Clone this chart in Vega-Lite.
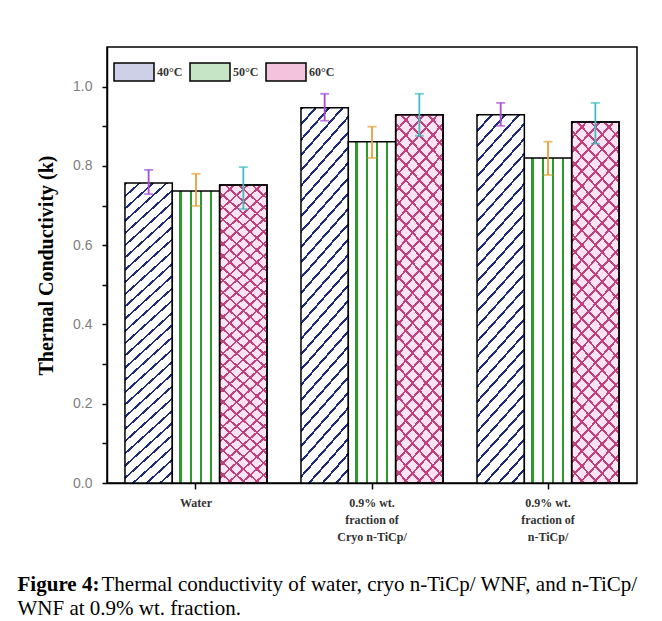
{
"$schema": "https://vega.github.io/schema/vega-lite/v6.json",
"width": 530, "height": 436,
"autosize": {"type": "none"},
"padding": {"left": 107, "top": 47, "right": 25, "bottom": 138},
"background": "white",
"config": {"view": {"stroke": "black", "strokeWidth": 1.5}, "axis": {"domainColor": "black", "tickColor": "black", "domainWidth": 1.5, "tickWidth": 1.5, "grid": false}},
"title": {"text": "Figure 4:", "subtitle": ["\u200b\u00a0\u00a0\u00a0\u00a0\u00a0\u00a0\u00a0\u00a0\u00a0\u00a0\u00a0\u00a0\u00a0\u00a0\u00a0\u00a0Thermal conductivity of water, cryo n-TiCp/ WNF, and n-TiCp/", "WNF at 0.9% wt. fraction."], "orient": "bottom", "anchor": "start", "frame": "bounds", "offset": 32, "dx": -19, "font": "Liberation Serif", "fontSize": 21, "fontWeight": "bold", "color": "black", "subtitleFont": "Liberation Serif", "subtitleFontSize": 21, "subtitleFontWeight": "normal", "subtitleColor": "black", "subtitlePadding": -21, "subtitleLineHeight": 24},
"data": {"values": [
{"group": "Water", "temp": "40°C", "value": 0.757, "lo": 0.729, "hi": 0.790},
{"group": "Water", "temp": "50°C", "value": 0.737, "lo": 0.699, "hi": 0.780},
{"group": "Water", "temp": "60°C", "value": 0.752, "lo": 0.691, "hi": 0.797},
{"group": "0.9% wt.\nfraction of\nCryo n-TiCp/", "temp": "40°C", "value": 0.947, "lo": 0.914, "hi": 0.982},
{"group": "0.9% wt.\nfraction of\nCryo n-TiCp/", "temp": "50°C", "value": 0.861, "lo": 0.820, "hi": 0.899},
{"group": "0.9% wt.\nfraction of\nCryo n-TiCp/", "temp": "60°C", "value": 0.929, "lo": 0.876, "hi": 0.982},
{"group": "0.9% wt.\nfraction of\nn-TiCp/", "temp": "40°C", "value": 0.929, "lo": 0.901, "hi": 0.959},
{"group": "0.9% wt.\nfraction of\nn-TiCp/", "temp": "50°C", "value": 0.820, "lo": 0.777, "hi": 0.861},
{"group": "0.9% wt.\nfraction of\nn-TiCp/", "temp": "60°C", "value": 0.911, "lo": 0.856, "hi": 0.959}
]},
"encoding": {
"x": {"field": "group", "type": "nominal", "sort": null, "scale": {"paddingInner": 0.193, "paddingOuter": 0.102}, "axis": {"title": null, "labelAngle": 0, "labelExpr": "split(datum.value, '\\n')", "labelFont": "Liberation Serif", "labelFontWeight": "bold", "labelFontSize": 12, "labelColor": "#333333", "labelLineHeight": 17, "labelPadding": 8, "tickSize": 6}},
"xOffset": {"field": "temp", "type": "nominal", "scale": {"domain": ["40°C", "50°C", "60°C"], "paddingInner": 0, "paddingOuter": 0}}
},
"layer": [
{"mark": {"type": "bar", "stroke": "black", "strokeWidth": 1.5},
 "encoding": {
 "y": {"field": "value", "type": "quantitative", "title": "Thermal Conductivity (k)", "scale": {"domain": [0, 1.1], "nice": false}, "axis": {"values": [0, 0.1, 0.2, 0.3, 0.4, 0.5, 0.6, 0.7, 0.8, 0.9, 1.0], "labelExpr": "round(datum.value*10)%2===0 ? format(datum.value,'.1f') : ''", "labelFont": "Liberation Sans", "labelFontSize": 14, "labelColor": "#808080", "labelPadding": 10, "tickSize": 5, "titleFont": "Liberation Serif", "titleFontWeight": "bold", "titleFontSize": 20, "titleColor": "black", "titlePadding": 16}},
 "fill": {"field": "temp", "type": "nominal", "scale": {"domain": ["40°C", "50°C", "60°C"], "range": ["#cdd0e6", "#c6e4c6", "#f3c2dd"]},
  "legend": {"orient": "none", "legendX": 6, "legendY": 4, "direction": "horizontal", "title": null, "symbolType": "M-1,-0.45H1V0.45H-1Z", "symbolSize": 1600, "symbolStrokeColor": "black", "symbolStrokeWidth": 1.5, "labelFont": "Liberation Serif", "labelFontWeight": "bold", "labelFontSize": 12, "labelColor": "#333333", "labelOffset": 2, "columnPadding": 4},
  "condition": [
   {"test": "datum.temp === '40°C'", "value": {"gradient": "linear", "x1": 0, "y1": 0, "x2": 0.16, "y2": 1.12, "stops": [{"offset":0,"color":"#fff"},{"offset":0,"color":"#1f2a7a"},{"offset":0.007,"color":"#1f2a7a"},{"offset":0.007,"color":"#fff"},{"offset":0.0357,"color":"#fff"},{"offset":0.0357,"color":"#1f2a7a"},{"offset":0.0427,"color":"#1f2a7a"},{"offset":0.0427,"color":"#fff"},{"offset":0.0714,"color":"#fff"},{"offset":0.0714,"color":"#1f2a7a"},{"offset":0.0784,"color":"#1f2a7a"},{"offset":0.0784,"color":"#fff"},{"offset":0.1071,"color":"#fff"},{"offset":0.1071,"color":"#1f2a7a"},{"offset":0.1141,"color":"#1f2a7a"},{"offset":0.1141,"color":"#fff"},{"offset":0.1429,"color":"#fff"},{"offset":0.1429,"color":"#1f2a7a"},{"offset":0.1499,"color":"#1f2a7a"},{"offset":0.1499,"color":"#fff"},{"offset":0.1786,"color":"#fff"},{"offset":0.1786,"color":"#1f2a7a"},{"offset":0.1856,"color":"#1f2a7a"},{"offset":0.1856,"color":"#fff"},{"offset":0.2143,"color":"#fff"},{"offset":0.2143,"color":"#1f2a7a"},{"offset":0.2213,"color":"#1f2a7a"},{"offset":0.2213,"color":"#fff"},{"offset":0.25,"color":"#fff"},{"offset":0.25,"color":"#1f2a7a"},{"offset":0.257,"color":"#1f2a7a"},{"offset":0.257,"color":"#fff"},{"offset":0.2857,"color":"#fff"},{"offset":0.2857,"color":"#1f2a7a"},{"offset":0.2927,"color":"#1f2a7a"},{"offset":0.2927,"color":"#fff"},{"offset":0.3214,"color":"#fff"},{"offset":0.3214,"color":"#1f2a7a"},{"offset":0.3284,"color":"#1f2a7a"},{"offset":0.3284,"color":"#fff"},{"offset":0.3571,"color":"#fff"},{"offset":0.3571,"color":"#1f2a7a"},{"offset":0.3641,"color":"#1f2a7a"},{"offset":0.3641,"color":"#fff"},{"offset":0.3929,"color":"#fff"},{"offset":0.3929,"color":"#1f2a7a"},{"offset":0.3999,"color":"#1f2a7a"},{"offset":0.3999,"color":"#fff"},{"offset":0.4286,"color":"#fff"},{"offset":0.4286,"color":"#1f2a7a"},{"offset":0.4356,"color":"#1f2a7a"},{"offset":0.4356,"color":"#fff"},{"offset":0.4643,"color":"#fff"},{"offset":0.4643,"color":"#1f2a7a"},{"offset":0.4713,"color":"#1f2a7a"},{"offset":0.4713,"color":"#fff"},{"offset":0.5,"color":"#fff"},{"offset":0.5,"color":"#1f2a7a"},{"offset":0.507,"color":"#1f2a7a"},{"offset":0.507,"color":"#fff"},{"offset":0.5357,"color":"#fff"},{"offset":0.5357,"color":"#1f2a7a"},{"offset":0.5427,"color":"#1f2a7a"},{"offset":0.5427,"color":"#fff"},{"offset":0.5714,"color":"#fff"},{"offset":0.5714,"color":"#1f2a7a"},{"offset":0.5784,"color":"#1f2a7a"},{"offset":0.5784,"color":"#fff"},{"offset":0.6071,"color":"#fff"},{"offset":0.6071,"color":"#1f2a7a"},{"offset":0.6141,"color":"#1f2a7a"},{"offset":0.6141,"color":"#fff"},{"offset":0.6429,"color":"#fff"},{"offset":0.6429,"color":"#1f2a7a"},{"offset":0.6499,"color":"#1f2a7a"},{"offset":0.6499,"color":"#fff"},{"offset":0.6786,"color":"#fff"},{"offset":0.6786,"color":"#1f2a7a"},{"offset":0.6856,"color":"#1f2a7a"},{"offset":0.6856,"color":"#fff"},{"offset":0.7143,"color":"#fff"},{"offset":0.7143,"color":"#1f2a7a"},{"offset":0.7213,"color":"#1f2a7a"},{"offset":0.7213,"color":"#fff"},{"offset":0.75,"color":"#fff"},{"offset":0.75,"color":"#1f2a7a"},{"offset":0.757,"color":"#1f2a7a"},{"offset":0.757,"color":"#fff"},{"offset":0.7857,"color":"#fff"},{"offset":0.7857,"color":"#1f2a7a"},{"offset":0.7927,"color":"#1f2a7a"},{"offset":0.7927,"color":"#fff"},{"offset":0.8214,"color":"#fff"},{"offset":0.8214,"color":"#1f2a7a"},{"offset":0.8284,"color":"#1f2a7a"},{"offset":0.8284,"color":"#fff"},{"offset":0.8571,"color":"#fff"},{"offset":0.8571,"color":"#1f2a7a"},{"offset":0.8641,"color":"#1f2a7a"},{"offset":0.8641,"color":"#fff"},{"offset":0.8929,"color":"#fff"},{"offset":0.8929,"color":"#1f2a7a"},{"offset":0.8999,"color":"#1f2a7a"},{"offset":0.8999,"color":"#fff"},{"offset":0.9286,"color":"#fff"},{"offset":0.9286,"color":"#1f2a7a"},{"offset":0.9356,"color":"#1f2a7a"},{"offset":0.9356,"color":"#fff"},{"offset":0.9643,"color":"#fff"},{"offset":0.9643,"color":"#1f2a7a"},{"offset":0.9713,"color":"#1f2a7a"},{"offset":0.9713,"color":"#fff"},{"offset":1,"color":"#fff"}]}},
   {"test": "datum.temp === '50°C'", "value": {"gradient": "linear", "x1": 0, "y1": 0, "x2": 1, "y2": 0, "stops": [{"offset":0,"color":"#fff"},{"offset":0.15,"color":"#fff"},{"offset":0.15,"color":"#2e9a2e"},{"offset":0.2,"color":"#2e9a2e"},{"offset":0.2,"color":"#fff"},{"offset":0.37,"color":"#fff"},{"offset":0.37,"color":"#2e9a2e"},{"offset":0.42,"color":"#2e9a2e"},{"offset":0.42,"color":"#fff"},{"offset":0.58,"color":"#fff"},{"offset":0.58,"color":"#2e9a2e"},{"offset":0.63,"color":"#2e9a2e"},{"offset":0.63,"color":"#fff"},{"offset":0.79,"color":"#fff"},{"offset":0.79,"color":"#2e9a2e"},{"offset":0.84,"color":"#2e9a2e"},{"offset":0.84,"color":"#fff"},{"offset":1,"color":"#fff"}]}},
   {"test": "datum.temp === '60°C'", "value": {"gradient": "linear", "x1": 0, "y1": 0, "x2": 0.16, "y2": 1.12, "stops": [{"offset":0,"color":"#fbe3f1"},{"offset":0,"color":"#c2407e"},{"offset":0.007,"color":"#c2407e"},{"offset":0.007,"color":"#fbe3f1"},{"offset":0.0357,"color":"#fbe3f1"},{"offset":0.0357,"color":"#c2407e"},{"offset":0.0427,"color":"#c2407e"},{"offset":0.0427,"color":"#fbe3f1"},{"offset":0.0714,"color":"#fbe3f1"},{"offset":0.0714,"color":"#c2407e"},{"offset":0.0784,"color":"#c2407e"},{"offset":0.0784,"color":"#fbe3f1"},{"offset":0.1071,"color":"#fbe3f1"},{"offset":0.1071,"color":"#c2407e"},{"offset":0.1141,"color":"#c2407e"},{"offset":0.1141,"color":"#fbe3f1"},{"offset":0.1429,"color":"#fbe3f1"},{"offset":0.1429,"color":"#c2407e"},{"offset":0.1499,"color":"#c2407e"},{"offset":0.1499,"color":"#fbe3f1"},{"offset":0.1786,"color":"#fbe3f1"},{"offset":0.1786,"color":"#c2407e"},{"offset":0.1856,"color":"#c2407e"},{"offset":0.1856,"color":"#fbe3f1"},{"offset":0.2143,"color":"#fbe3f1"},{"offset":0.2143,"color":"#c2407e"},{"offset":0.2213,"color":"#c2407e"},{"offset":0.2213,"color":"#fbe3f1"},{"offset":0.25,"color":"#fbe3f1"},{"offset":0.25,"color":"#c2407e"},{"offset":0.257,"color":"#c2407e"},{"offset":0.257,"color":"#fbe3f1"},{"offset":0.2857,"color":"#fbe3f1"},{"offset":0.2857,"color":"#c2407e"},{"offset":0.2927,"color":"#c2407e"},{"offset":0.2927,"color":"#fbe3f1"},{"offset":0.3214,"color":"#fbe3f1"},{"offset":0.3214,"color":"#c2407e"},{"offset":0.3284,"color":"#c2407e"},{"offset":0.3284,"color":"#fbe3f1"},{"offset":0.3571,"color":"#fbe3f1"},{"offset":0.3571,"color":"#c2407e"},{"offset":0.3641,"color":"#c2407e"},{"offset":0.3641,"color":"#fbe3f1"},{"offset":0.3929,"color":"#fbe3f1"},{"offset":0.3929,"color":"#c2407e"},{"offset":0.3999,"color":"#c2407e"},{"offset":0.3999,"color":"#fbe3f1"},{"offset":0.4286,"color":"#fbe3f1"},{"offset":0.4286,"color":"#c2407e"},{"offset":0.4356,"color":"#c2407e"},{"offset":0.4356,"color":"#fbe3f1"},{"offset":0.4643,"color":"#fbe3f1"},{"offset":0.4643,"color":"#c2407e"},{"offset":0.4713,"color":"#c2407e"},{"offset":0.4713,"color":"#fbe3f1"},{"offset":0.5,"color":"#fbe3f1"},{"offset":0.5,"color":"#c2407e"},{"offset":0.507,"color":"#c2407e"},{"offset":0.507,"color":"#fbe3f1"},{"offset":0.5357,"color":"#fbe3f1"},{"offset":0.5357,"color":"#c2407e"},{"offset":0.5427,"color":"#c2407e"},{"offset":0.5427,"color":"#fbe3f1"},{"offset":0.5714,"color":"#fbe3f1"},{"offset":0.5714,"color":"#c2407e"},{"offset":0.5784,"color":"#c2407e"},{"offset":0.5784,"color":"#fbe3f1"},{"offset":0.6071,"color":"#fbe3f1"},{"offset":0.6071,"color":"#c2407e"},{"offset":0.6141,"color":"#c2407e"},{"offset":0.6141,"color":"#fbe3f1"},{"offset":0.6429,"color":"#fbe3f1"},{"offset":0.6429,"color":"#c2407e"},{"offset":0.6499,"color":"#c2407e"},{"offset":0.6499,"color":"#fbe3f1"},{"offset":0.6786,"color":"#fbe3f1"},{"offset":0.6786,"color":"#c2407e"},{"offset":0.6856,"color":"#c2407e"},{"offset":0.6856,"color":"#fbe3f1"},{"offset":0.7143,"color":"#fbe3f1"},{"offset":0.7143,"color":"#c2407e"},{"offset":0.7213,"color":"#c2407e"},{"offset":0.7213,"color":"#fbe3f1"},{"offset":0.75,"color":"#fbe3f1"},{"offset":0.75,"color":"#c2407e"},{"offset":0.757,"color":"#c2407e"},{"offset":0.757,"color":"#fbe3f1"},{"offset":0.7857,"color":"#fbe3f1"},{"offset":0.7857,"color":"#c2407e"},{"offset":0.7927,"color":"#c2407e"},{"offset":0.7927,"color":"#fbe3f1"},{"offset":0.8214,"color":"#fbe3f1"},{"offset":0.8214,"color":"#c2407e"},{"offset":0.8284,"color":"#c2407e"},{"offset":0.8284,"color":"#fbe3f1"},{"offset":0.8571,"color":"#fbe3f1"},{"offset":0.8571,"color":"#c2407e"},{"offset":0.8641,"color":"#c2407e"},{"offset":0.8641,"color":"#fbe3f1"},{"offset":0.8929,"color":"#fbe3f1"},{"offset":0.8929,"color":"#c2407e"},{"offset":0.8999,"color":"#c2407e"},{"offset":0.8999,"color":"#fbe3f1"},{"offset":0.9286,"color":"#fbe3f1"},{"offset":0.9286,"color":"#c2407e"},{"offset":0.9356,"color":"#c2407e"},{"offset":0.9356,"color":"#fbe3f1"},{"offset":0.9643,"color":"#fbe3f1"},{"offset":0.9643,"color":"#c2407e"},{"offset":0.9713,"color":"#c2407e"},{"offset":0.9713,"color":"#fbe3f1"},{"offset":1,"color":"#fbe3f1"}]}}
  ]}
 }},
{"transform": [{"filter": "datum.temp === '60°C'"}],
 "mark": {"type": "bar", "stroke": "black", "strokeWidth": 1.5, "fill": {"gradient": "linear", "x1": 1, "y1": 0, "x2": 0.84, "y2": 1.12, "stops": [{"offset":0,"color":"rgba(255,255,255,0)"},{"offset":0,"color":"#c2407e"},{"offset":0.007,"color":"#c2407e"},{"offset":0.007,"color":"rgba(255,255,255,0)"},{"offset":0.0357,"color":"rgba(255,255,255,0)"},{"offset":0.0357,"color":"#c2407e"},{"offset":0.0427,"color":"#c2407e"},{"offset":0.0427,"color":"rgba(255,255,255,0)"},{"offset":0.0714,"color":"rgba(255,255,255,0)"},{"offset":0.0714,"color":"#c2407e"},{"offset":0.0784,"color":"#c2407e"},{"offset":0.0784,"color":"rgba(255,255,255,0)"},{"offset":0.1071,"color":"rgba(255,255,255,0)"},{"offset":0.1071,"color":"#c2407e"},{"offset":0.1141,"color":"#c2407e"},{"offset":0.1141,"color":"rgba(255,255,255,0)"},{"offset":0.1429,"color":"rgba(255,255,255,0)"},{"offset":0.1429,"color":"#c2407e"},{"offset":0.1499,"color":"#c2407e"},{"offset":0.1499,"color":"rgba(255,255,255,0)"},{"offset":0.1786,"color":"rgba(255,255,255,0)"},{"offset":0.1786,"color":"#c2407e"},{"offset":0.1856,"color":"#c2407e"},{"offset":0.1856,"color":"rgba(255,255,255,0)"},{"offset":0.2143,"color":"rgba(255,255,255,0)"},{"offset":0.2143,"color":"#c2407e"},{"offset":0.2213,"color":"#c2407e"},{"offset":0.2213,"color":"rgba(255,255,255,0)"},{"offset":0.25,"color":"rgba(255,255,255,0)"},{"offset":0.25,"color":"#c2407e"},{"offset":0.257,"color":"#c2407e"},{"offset":0.257,"color":"rgba(255,255,255,0)"},{"offset":0.2857,"color":"rgba(255,255,255,0)"},{"offset":0.2857,"color":"#c2407e"},{"offset":0.2927,"color":"#c2407e"},{"offset":0.2927,"color":"rgba(255,255,255,0)"},{"offset":0.3214,"color":"rgba(255,255,255,0)"},{"offset":0.3214,"color":"#c2407e"},{"offset":0.3284,"color":"#c2407e"},{"offset":0.3284,"color":"rgba(255,255,255,0)"},{"offset":0.3571,"color":"rgba(255,255,255,0)"},{"offset":0.3571,"color":"#c2407e"},{"offset":0.3641,"color":"#c2407e"},{"offset":0.3641,"color":"rgba(255,255,255,0)"},{"offset":0.3929,"color":"rgba(255,255,255,0)"},{"offset":0.3929,"color":"#c2407e"},{"offset":0.3999,"color":"#c2407e"},{"offset":0.3999,"color":"rgba(255,255,255,0)"},{"offset":0.4286,"color":"rgba(255,255,255,0)"},{"offset":0.4286,"color":"#c2407e"},{"offset":0.4356,"color":"#c2407e"},{"offset":0.4356,"color":"rgba(255,255,255,0)"},{"offset":0.4643,"color":"rgba(255,255,255,0)"},{"offset":0.4643,"color":"#c2407e"},{"offset":0.4713,"color":"#c2407e"},{"offset":0.4713,"color":"rgba(255,255,255,0)"},{"offset":0.5,"color":"rgba(255,255,255,0)"},{"offset":0.5,"color":"#c2407e"},{"offset":0.507,"color":"#c2407e"},{"offset":0.507,"color":"rgba(255,255,255,0)"},{"offset":0.5357,"color":"rgba(255,255,255,0)"},{"offset":0.5357,"color":"#c2407e"},{"offset":0.5427,"color":"#c2407e"},{"offset":0.5427,"color":"rgba(255,255,255,0)"},{"offset":0.5714,"color":"rgba(255,255,255,0)"},{"offset":0.5714,"color":"#c2407e"},{"offset":0.5784,"color":"#c2407e"},{"offset":0.5784,"color":"rgba(255,255,255,0)"},{"offset":0.6071,"color":"rgba(255,255,255,0)"},{"offset":0.6071,"color":"#c2407e"},{"offset":0.6141,"color":"#c2407e"},{"offset":0.6141,"color":"rgba(255,255,255,0)"},{"offset":0.6429,"color":"rgba(255,255,255,0)"},{"offset":0.6429,"color":"#c2407e"},{"offset":0.6499,"color":"#c2407e"},{"offset":0.6499,"color":"rgba(255,255,255,0)"},{"offset":0.6786,"color":"rgba(255,255,255,0)"},{"offset":0.6786,"color":"#c2407e"},{"offset":0.6856,"color":"#c2407e"},{"offset":0.6856,"color":"rgba(255,255,255,0)"},{"offset":0.7143,"color":"rgba(255,255,255,0)"},{"offset":0.7143,"color":"#c2407e"},{"offset":0.7213,"color":"#c2407e"},{"offset":0.7213,"color":"rgba(255,255,255,0)"},{"offset":0.75,"color":"rgba(255,255,255,0)"},{"offset":0.75,"color":"#c2407e"},{"offset":0.757,"color":"#c2407e"},{"offset":0.757,"color":"rgba(255,255,255,0)"},{"offset":0.7857,"color":"rgba(255,255,255,0)"},{"offset":0.7857,"color":"#c2407e"},{"offset":0.7927,"color":"#c2407e"},{"offset":0.7927,"color":"rgba(255,255,255,0)"},{"offset":0.8214,"color":"rgba(255,255,255,0)"},{"offset":0.8214,"color":"#c2407e"},{"offset":0.8284,"color":"#c2407e"},{"offset":0.8284,"color":"rgba(255,255,255,0)"},{"offset":0.8571,"color":"rgba(255,255,255,0)"},{"offset":0.8571,"color":"#c2407e"},{"offset":0.8641,"color":"#c2407e"},{"offset":0.8641,"color":"rgba(255,255,255,0)"},{"offset":0.8929,"color":"rgba(255,255,255,0)"},{"offset":0.8929,"color":"#c2407e"},{"offset":0.8999,"color":"#c2407e"},{"offset":0.8999,"color":"rgba(255,255,255,0)"},{"offset":0.9286,"color":"rgba(255,255,255,0)"},{"offset":0.9286,"color":"#c2407e"},{"offset":0.9356,"color":"#c2407e"},{"offset":0.9356,"color":"rgba(255,255,255,0)"},{"offset":0.9643,"color":"rgba(255,255,255,0)"},{"offset":0.9643,"color":"#c2407e"},{"offset":0.9713,"color":"#c2407e"},{"offset":0.9713,"color":"rgba(255,255,255,0)"},{"offset":1,"color":"rgba(255,255,255,0)"}]}},
 "encoding": {"y": {"field": "value", "type": "quantitative", "title": "Thermal Conductivity (k)"}}},
{"mark": {"type": "rule", "strokeWidth": 1.8},
 "encoding": {"y": {"field": "lo", "type": "quantitative", "title": "Thermal Conductivity (k)"}, "y2": {"field": "hi"},
  "color": {"condition": [{"test": "datum.temp === '40°C'", "value": "#a64bd8"}, {"test": "datum.temp === '50°C'", "value": "#e6a13a"}], "value": "#3fbcc4"}}},
{"mark": {"type": "tick", "thickness": 1.8, "size": 9},
 "encoding": {"y": {"field": "hi", "type": "quantitative", "title": "Thermal Conductivity (k)"},
  "color": {"condition": [{"test": "datum.temp === '40°C'", "value": "#a64bd8"}, {"test": "datum.temp === '50°C'", "value": "#e6a13a"}], "value": "#3fbcc4"}}},
{"mark": {"type": "tick", "thickness": 1.8, "size": 9},
 "encoding": {"y": {"field": "lo", "type": "quantitative", "title": "Thermal Conductivity (k)"},
  "color": {"condition": [{"test": "datum.temp === '40°C'", "value": "#a64bd8"}, {"test": "datum.temp === '50°C'", "value": "#e6a13a"}], "value": "#3fbcc4"}}}
]
}
